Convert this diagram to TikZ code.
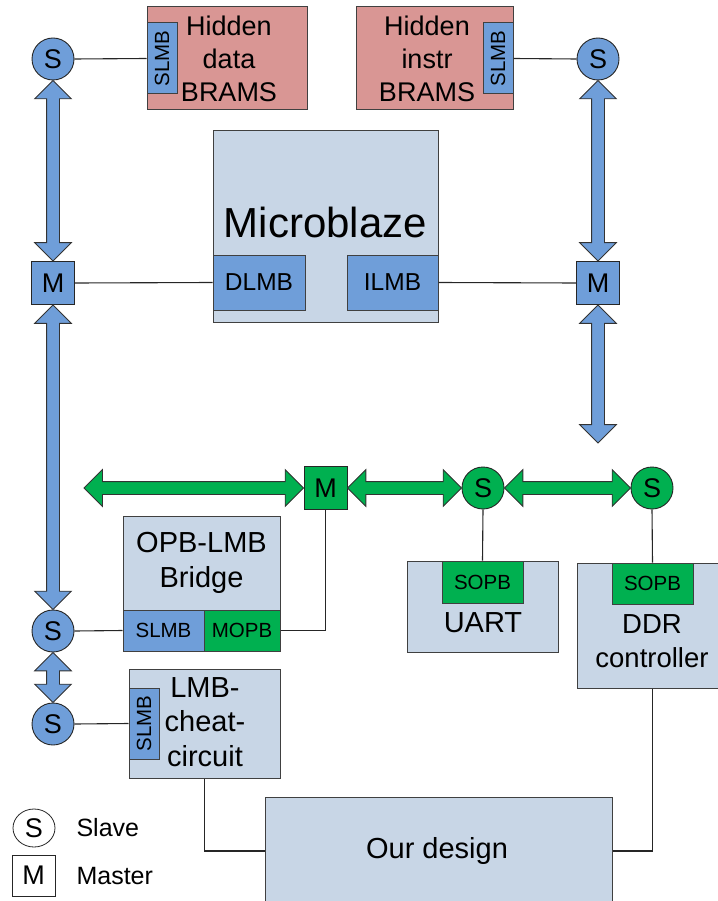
\documentclass[tikz,border=0pt]{standalone}
\usepackage{fontspec}
\setmainfont{Liberation Sans}
\usepackage{graphicx}
\usepackage{tikz}
\usetikzlibrary{shapes,arrows,calc}

\definecolor{lmbblue}{RGB}{111,158,217}
\definecolor{opbgreen}{RGB}{0,176,80}
\definecolor{boxgrey}{RGB}{200,214,230}
\definecolor{brampink}{RGB}{217,150,148}
\definecolor{edgegrey}{RGB}{64,64,64}

\newcommand{\fsbox}{\fontsize{27}{33}\selectfont}
\newcommand{\fswide}{\fontsize{29}{34.5}\selectfont}
\newcommand{\fsport}{\fontsize{20.5}{24}\selectfont}
\newcommand{\fslmb}{\fontsize{24.5}{28}\selectfont}
\newcommand{\fsbus}{\fontsize{27}{30}\selectfont}
\newcommand{\fsbig}{\fontsize{42}{48}\selectfont}
\newcommand{\fslegend}{\fontsize{25}{30}\selectfont}

\tikzstyle{line} = [draw=black!85, line width=1.1pt]
\tikzstyle{block} = [draw=edgegrey, line width=1pt, fill=boxgrey, inner sep=0pt]
\tikzstyle{bram} = [block, fill=brampink]
\tikzstyle{caption} = [align=center, inner sep=0pt, font=\fsbox]
\tikzstyle{port} = [draw=edgegrey, line width=1pt, fill=lmbblue, inner sep=0pt, font=\fsport]
\tikzstyle{oport} = [port, fill=opbgreen]
\tikzstyle{slave} = [circle, draw=black!85, line width=0.9pt, fill=lmbblue, minimum size=42pt, inner sep=0pt, font=\fsbus]
\tikzstyle{master} = [rectangle, draw=black!85, line width=0.9pt, fill=lmbblue, minimum size=43pt, inner sep=0pt, font=\fsbus]
\tikzstyle{bus} = [double arrow, draw=black!80, line width=0.8pt, inner sep=0pt, inner ysep=6pt, minimum width=0pt, double arrow head extend=12pt, double arrow tip angle=90, double arrow head indent=0pt]

% fat bus arrow between two points
\newcommand{\busarrow}[3][lmbblue]{%
  \path let \p1=(#2), \p2=(#3), \n1={veclen(\x2-\x1,\y2-\y1)}, \n2={atan2(\y2-\y1,\x2-\x1)} in
    node[bus, fill=#1, minimum height=\n1, rotate=\n2] at ($(\p1)!.5!(\p2)$) {};}

\begin{document}
\begin{tikzpicture}[x=1pt,y=-1pt]
  \useasboundingbox (0,0) rectangle (717,901);

  % hidden BRAMs
  \node[bram, minimum width=160pt, minimum height=103pt] (dbram) at (227,58.5) {};
  \node[caption] (dbramTxt) at (229,58.5) {Hidden\\data\\BRAMS};
  \node[port, minimum width=30pt, minimum height=71pt] (dSlmb) at (162,58.5) {\rotatebox{90}{SLMB}};
  \node[bram, minimum width=157pt, minimum height=103pt] (ibram) at (434.5,58.5) {};
  \node[caption] (ibramTxt) at (427,58.5) {Hidden\\instr\\BRAMS};
  \node[port, minimum width=30pt, minimum height=71pt] (iSlmb) at (498,58.5) {\rotatebox{90}{SLMB}};

  % microblaze
  \node[block, minimum width=225pt, minimum height=191pt] (micro) at (325.5,226.5) {};
  \node[caption, font=\fsbig] (microTxt) at (325.5,222) {Microblaze};
  \node[port, font=\fslmb, minimum width=92pt, minimum height=55pt] (dlmb) at (259,282.5) {DLMB};
  \node[port, font=\fslmb, minimum width=91pt, minimum height=55pt] (ilmb) at (392.5,282.5) {ILMB};

  % LMB bus ends
  \node[slave] (sD) at (53,59) {S};
  \node[slave] (sI) at (598,59) {S};
  \node[master] (mD) at (53,283) {M};
  \node[master] (mI) at (598,283) {M};
  \node[slave] (sB) at (53,631) {S};
  \node[slave] (sC) at (53,724) {S};
  \coordinate (iEnd) at (598,443);

  % OPB bus ends
  \node[master, fill=opbgreen] (gM) at (325.5,488) {M};
  \node[slave, fill=opbgreen] (gS1) at (483,488) {S};
  \node[slave, fill=opbgreen] (gS2) at (652,488) {S};
  \coordinate (gEnd) at (84,488);

  % bridge and cheat circuit
  \node[block, minimum width=157pt, minimum height=135pt] (bridge) at (201.5,583.5) {};
  \node[caption, font=\fswide] (bridgeTxt) at (201.5,563) {OPB-LMB\\Bridge};
  \node[port, minimum width=81pt, minimum height=41pt] (bSlmb) at (163.5,630.5) {SLMB};
  \node[oport, minimum width=76pt, minimum height=41pt] (bMopb) at (242,630.5) {MOPB};
  \node[block, minimum width=151pt, minimum height=109pt] (cheat) at (204.5,723.5) {};
  \node[caption, font=\fswide] (cheatTxt) at (205,722) {LMB-\\cheat-\\circuit};
  \node[port, minimum width=30pt, minimum height=71pt] (cSlmb) at (144,723.5) {\rotatebox{90}{SLMB}};

  % OPB slaves
  \node[block, minimum width=151pt, minimum height=91pt] (uart) at (482.5,606.5) {};
  \node[caption, font=\fswide] (uartTxt) at (483,622.5) {UART};
  \node[oport, minimum width=81pt, minimum height=42pt] (uSopb) at (482.5,582) {SOPB};
  \node[block, minimum width=151pt, minimum height=125pt] (ddr) at (652.5,625.5) {};
  \node[caption, font=\fontsize{27.5}{34}\selectfont] (ddrTxt) at (652,641) {DDR\\controller};
  \node[oport, minimum width=81pt, minimum height=41pt] (dSopb) at (652.5,583.5) {SOPB};

  % our design
  \node[block, minimum width=347pt, minimum height=108pt] (our) at (438.5,851) {};
  \node[caption, font=\fswide] (ourTxt) at (437,851) {Our design};

  % buses
  \busarrow{sD.south}{mD.north}
  \busarrow{sI.south}{mI.north}
  \busarrow{mI.south}{iEnd}
  \busarrow{mD.south}{sB.north}
  \busarrow{sB.south}{sC.north}
  \busarrow[opbgreen]{gEnd}{gM.west}
  \busarrow[opbgreen]{gM.east}{gS1.west}
  \busarrow[opbgreen]{gS1.east}{gS2.west}

  % thin connections
  \draw[line] (sD.east) -- (dSlmb.west);
  \draw[line] (iSlmb.east) -- (sI.west);
  \draw[line] (mD.east) -- (dlmb.west);
  \draw[line] (ilmb.east) -- (mI.west);
  \draw[line] (sB.east) -- (bSlmb.west);
  \draw[line] (bMopb.east) -| (gM.south);
  \draw[line] (sC.east) -- (cSlmb.west);
  \draw[line] (gS1.south) -- (uSopb.north);
  \draw[line] (gS2.south) -- (dSopb.north);
  \draw[line] (cheat.south) |- (our.west);
  \draw[line] (ddr.south) |- (our.east);

  % legend
  \node[ellipse, draw=black!85, line width=0.8pt, minimum width=42pt, minimum height=38pt, inner sep=0pt, font=\fsbus] (lgS) at (34,828) {S};
  \node[anchor=west, font=\fslegend] (lgSTxt) at (73,828) {Slave};
  \node[draw=black!85, line width=0.8pt, minimum width=43pt, minimum height=41pt, inner sep=0pt, font=\fsbus] (lgM) at (33.5,875.5) {M};
  \node[anchor=west, font=\fslegend] (lgMTxt) at (73,876) {Master};
\end{tikzpicture}
\end{document}
